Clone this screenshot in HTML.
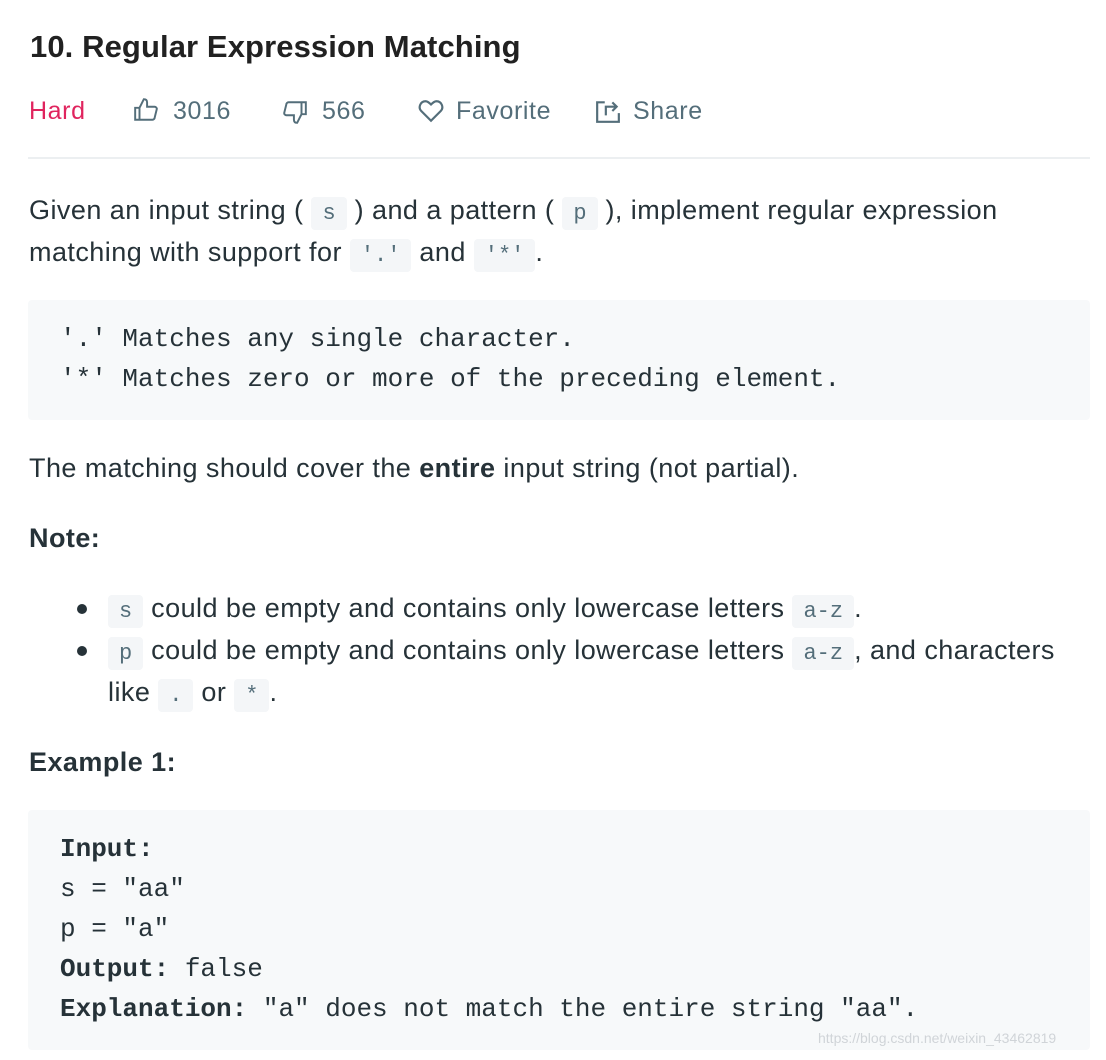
<!DOCTYPE html>
<html><head><meta charset="utf-8"><style>
html,body{margin:0;padding:0;background:#fff;width:1106px;height:1060px;overflow:hidden}
body{font-family:"Liberation Sans",sans-serif;color:#263238;position:relative}
.a{position:absolute;white-space:nowrap}
.t{font-size:27px;line-height:42px;letter-spacing:0.45px}
code{font-family:"Liberation Mono",monospace;font-size:22px;color:#546e7a;background:#f4f6f8;border-radius:4px;padding:4px 11px;letter-spacing:0}
.pre{position:absolute;left:28px;width:1062px;background:#f7f9fa;border-radius:4px}
.m{font-family:"Liberation Mono",monospace;font-size:26px;line-height:40px;position:absolute;left:32px;white-space:pre;color:#263238}
.meta{font-size:25px;color:#546e7a;top:96px;line-height:30px;letter-spacing:0.6px}
</style></head><body>
<div class="a" style="left:30px;top:28px;font-size:31px;font-weight:bold;color:#212121;line-height:38px;letter-spacing:0.1px">10. Regular Expression Matching</div>
<div class="a meta" style="left:29px;color:#e0245e">Hard</div>
<div class="a meta" style="left:133px"><svg width="26" height="26" viewBox="0 0 24 24" style="vertical-align:-4px;margin-right:14px" fill="none" stroke="#546e7a" stroke-width="1.8"><path d="M2 10h4v11H2zM6 10l4-8c2 0 3 1 3 3v4h7c1 0 2 1 2 2l-2 8c0 1-1 2-2 2H6"/></svg>3016</div>
<div class="a meta" style="left:282px"><svg width="26" height="26" viewBox="0 0 24 24" style="vertical-align:-6px;margin-right:14px" fill="none" stroke="#546e7a" stroke-width="1.8"><path d="M22 14h-4V3h4zM18 14l-4 8c-2 0-3-1-3-3v-4H4c-1 0-2-1-2-2l2-8c0-1 1-2 2-2h12"/></svg>566</div>
<div class="a meta" style="left:418px"><svg width="26" height="24" viewBox="0 0 24 22" style="vertical-align:-4px;margin-right:12px" fill="none" stroke="#546e7a" stroke-width="2"><path d="M12 20L3 11C0 8 2 2 7 2c2 0 4 2 5 3 1-1 3-3 5-3 5 0 7 6 4 9z"/></svg>Favorite</div>
<div class="a meta" style="left:595px"><svg width="26" height="24" viewBox="0 0 24 22" style="vertical-align:-4px;margin-right:12px" fill="none" stroke="#546e7a" stroke-width="2"><path d="M9 3H2v18h20v-8M10 15V7h9M16 3l4 4-4 4"/></svg>Share</div>
<div class="a" style="left:28px;top:157px;width:1062px;height:2px;background:#eceff1"></div>
<div class="a t" style="left:29px;top:189px">Given an input string ( <code>s</code> ) and a pattern ( <code>p</code> ), implement regular expression</div>
<div class="a t" style="left:29px;top:231px">matching with support for <code>'.'</code> and <code>'*'</code>.</div>
<div class="pre" style="top:300px;height:120px"><div class="m" style="top:19px">'.' Matches any single character.
'*' Matches zero or more of the preceding element.</div></div>
<div class="a t" style="left:29px;top:447px">The matching should cover the <b>entire</b> input string (not partial).</div>
<div class="a t" style="left:29px;top:517px;font-weight:bold">Note:</div>
<div class="a" style="left:77px;top:604px;width:10px;height:10px;border-radius:50%;background:#263238"></div>
<div class="a" style="left:77px;top:646px;width:10px;height:10px;border-radius:50%;background:#263238"></div>
<div class="a t" style="left:108px;top:587px"><code>s</code> could be empty and contains only lowercase letters <code>a-z</code>.</div>
<div class="a t" style="left:108px;top:629px"><code>p</code> could be empty and contains only lowercase letters <code>a-z</code>, and characters</div>
<div class="a t" style="left:108px;top:671px">like <code>.</code> or <code>*</code>.</div>
<div class="a t" style="left:29px;top:741px;font-weight:bold">Example 1:</div>
<div class="pre" style="top:810px;height:240px"><div class="m" style="top:19px"><b>Input:</b>
s = "aa"
p = "a"
<b>Output:</b> false
<b>Explanation:</b> "a" does not match the entire string "aa".</div></div>
<div class="a" style="left:818px;top:1030px;font-size:14px;color:#d0d4d8">https://blog.csdn.net/weixin_43462819</div>
</body></html>
